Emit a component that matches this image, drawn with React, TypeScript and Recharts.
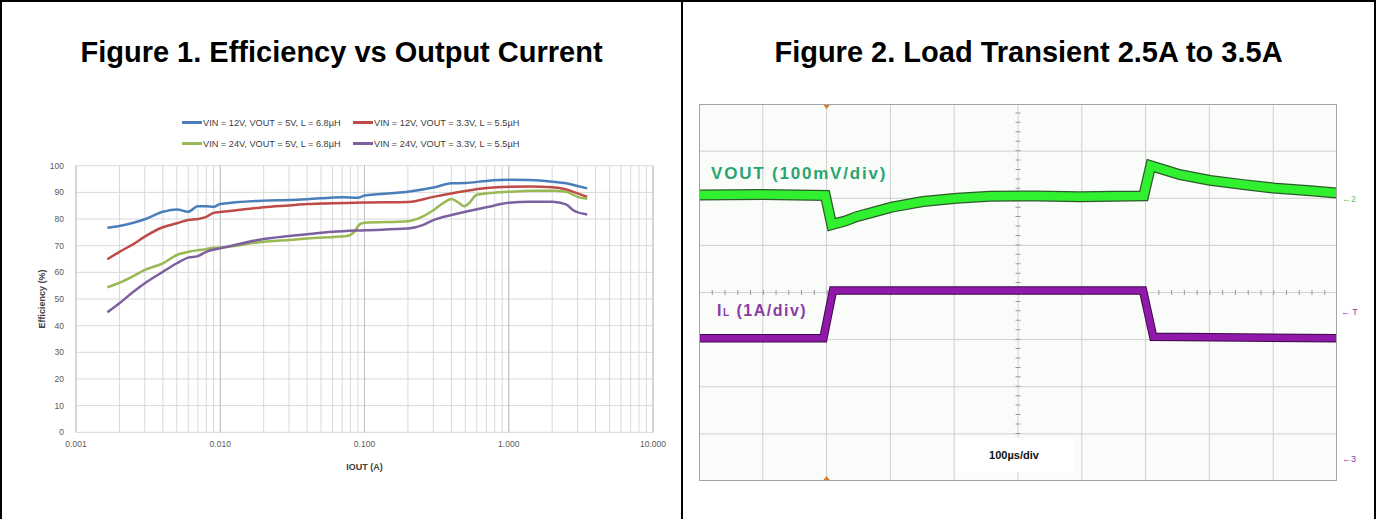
import React from "react";
import {
	CartesianGrid,
	Label,
	Line,
	LineChart,
	ReferenceDot,
	ReferenceLine,
	XAxis,
	YAxis,
} from "recharts";

// Figure 1 - efficiency curves (IOUT in A, efficiency in %)
const ioutBlue = [0.00165, 0.002, 0.0025, 0.003, 0.004, 0.005, 0.006, 0.007, 0.008, 0.009, 0.01, 0.02, 0.03, 0.04, 0.07, 0.09, 0.1, 0.2, 0.3, 0.4, 0.5, 0.7, 1.0, 1.4, 2.0, 2.5, 3.0, 3.5];
const effBlue = [76.7, 77.4, 78.6, 79.9, 82.7, 83.6, 82.7, 84.8, 84.8, 84.6, 85.6, 86.9, 87.1, 87.4, 88.2, 88.0, 88.8, 90.2, 91.8, 93.4, 93.5, 94.3, 94.7, 94.6, 94.0, 93.4, 92.4, 91.5];

const ioutRed = [0.00165, 0.002, 0.0025, 0.003, 0.004, 0.005, 0.006, 0.007, 0.008, 0.009, 0.01, 0.02, 0.03, 0.04, 0.1, 0.2, 0.3, 0.4, 0.5, 0.7, 1.0, 1.4, 2.0, 2.5, 3.0, 3.5];
const effRed = [64.9, 67.7, 70.6, 73.4, 76.9, 78.4, 79.6, 80.0, 80.8, 82.3, 82.6, 84.4, 85.1, 85.6, 86.2, 86.4, 88.3, 89.6, 90.5, 91.6, 92.1, 92.2, 91.9, 91.1, 89.6, 88.3];

const ioutGreen = [0.00165, 0.002, 0.0025, 0.003, 0.004, 0.005, 0.006, 0.007, 0.008, 0.009, 0.01, 0.02, 0.03, 0.04, 0.075, 0.085, 0.093, 0.1, 0.2, 0.25, 0.3, 0.35, 0.4, 0.45, 0.49, 0.53, 0.6, 0.7, 1.0, 1.5, 2.0, 2.5, 3.0, 3.5];
const effGreen = [54.4, 56.1, 58.6, 60.9, 63.4, 66.5, 67.7, 68.3, 68.7, 69.2, 69.3, 71.5, 72.1, 72.7, 73.6, 75.2, 78.1, 78.6, 79.2, 80.8, 83.3, 85.9, 87.5, 86.1, 84.8, 85.9, 89.1, 89.6, 90.2, 90.6, 90.6, 90.2, 88.3, 87.6];

const ioutPurple = [0.00165, 0.002, 0.0025, 0.003, 0.004, 0.005, 0.006, 0.007, 0.008, 0.009, 0.01, 0.02, 0.03, 0.04, 0.06, 0.1, 0.2, 0.25, 0.3, 0.4, 0.5, 0.7, 1.0, 1.4, 2.0, 2.5, 2.8, 3.5];
const effPurple = [45.0, 48.4, 52.7, 55.9, 60.2, 63.4, 65.5, 66.1, 67.7, 68.5, 69.0, 72.5, 73.6, 74.3, 75.2, 75.8, 76.4, 77.6, 79.6, 81.5, 82.7, 84.4, 86.1, 86.5, 86.5, 85.5, 83.3, 81.7];

const seriesNames = [
	"VIN = 12V, VOUT = 5V, L = 6.8µH",
	"VIN = 12V, VOUT = 3.3V, L = 5.5µH",
	"VIN = 24V, VOUT = 5V, L = 6.8µH",
	"VIN = 24V, VOUT = 3.3V, L = 5.5µH",
];
const seriesColors = ["#4a7ebb", "#be4b48", "#98b954", "#7d60a0"];

const decadeTicks = [0.001, 0.01, 0.1, 1, 10];
const effTicks = [0, 10, 20, 30, 40, 50, 60, 70, 80, 90, 100];

// Figure 2 - scope traces (time and level in divisions)
const divTicksX = [0, 1, 2, 3, 4, 5, 6, 7, 8, 9, 10];
const divTicksY = [0, 1, 2, 3, 4, 5, 6, 7, 8];

const voutTime = [0, 1.0, 1.98, 2.08, 2.3, 2.47, 2.75, 3.02, 3.51, 4.04, 4.56, 5.29, 5.97, 6.5, 6.97, 7.08, 7.3, 7.54, 8.01, 8.53, 9.05, 9.58, 10];
const voutLevel = [6.07, 6.08, 6.06, 5.44, 5.52, 5.61, 5.71, 5.81, 5.93, 6.0, 6.04, 6.05, 6.03, 6.04, 6.05, 6.69, 6.6, 6.5, 6.38, 6.29, 6.21, 6.16, 6.11];

const ilTime = [0, 1.95, 2.1, 6.96, 7.12, 10];
const ilLevel = [3.03, 3.03, 4.04, 4.04, 3.06, 3.03];

const FONT = '"Liberation Sans", Arial, sans-serif';

const gridTicks = decadeTicks.slice(0, -1).flatMap((d) =>
	[1, 2, 3, 4, 5, 6, 7, 8, 9].map((m) => Number((m * d).toPrecision(3))),
).concat([10]);

const toPoints = (xs: number[], ys: number[]) => xs.map((x, i) => ({ x, y: ys[i] }));

const effSeries = [
	toPoints(ioutBlue, effBlue),
	toPoints(ioutRed, effRed),
	toPoints(ioutGreen, effGreen),
	toPoints(ioutPurple, effPurple),
];

const voutData = toPoints(voutTime, voutLevel);
const ilData = toPoints(ilTime, ilLevel);

function EfficiencyChart() {
	return (
		<div style={{ position: "absolute", left: 0, top: 150 }}>
			<LineChart width={683} height={330} margin={{ top: 15.7, right: 30, bottom: 0, left: 0 }}>
				<CartesianGrid stroke="#d9d9d9" />
				<XAxis
					type="number"
					dataKey="x"
					scale="log"
					domain={[0.001, 10]}
					ticks={gridTicks}
					interval={0}
					allowDataOverflow
					tickFormatter={(v: number) => (decadeTicks.includes(v) ? v.toFixed(3) : "")}
					axisLine={false}
					tickLine={false}
					tickSize={0}
					tickMargin={9}
					height={47.7}
					tick={{ fontSize: 8.5, fill: "#595959", fontFamily: FONT }}
				>
					<Label
						value="IOUT (A)"
						position="insideBottom"
						offset={10}
						style={{ fontSize: 9, fontWeight: "bold", fill: "#404040", fontFamily: FONT }}
					/>
				</XAxis>
				<YAxis
					type="number"
					domain={[0, 100]}
					ticks={effTicks}
					interval={0}
					axisLine={false}
					tickLine={false}
					tickSize={0}
					tickMargin={12}
					width={76}
					tick={{ fontSize: 8.5, fill: "#595959", fontFamily: FONT }}
				>
					<Label
						value="Efficiency (%)"
						angle={-90}
						position="insideLeft"
						offset={42}
						style={{ textAnchor: "middle", fontSize: 9, fontWeight: "bold", fill: "#404040", fontFamily: FONT }}
					/>
				</YAxis>
				{decadeTicks.map((d) => (
					<ReferenceLine key={d} x={d} stroke="#bfbfbf" />
				))}
				{effSeries.map((data, i) => (
					<Line
						key={seriesNames[i]}
						data={data}
						dataKey="y"
						type="monotone"
						stroke={seriesColors[i]}
						strokeWidth={2.5}
						dot={false}
						isAnimationActive={false}
					/>
				))}
			</LineChart>
			<div style={{ position: "absolute", left: 182, top: -38, fontFamily: FONT, fontSize: 9.2, color: "#404040" }}>
				{[0, 1].map((row) => (
					<div key={row} style={{ display: "flex", height: 21, alignItems: "center" }}>
						{[0, 1].map((col) => {
							const i = row * 2 + col;
							return (
								<div key={col} style={{ display: "flex", alignItems: "center", width: col === 0 ? 171 : 180 }}>
									<span style={{ display: "inline-block", width: 20, height: 2.5, background: seriesColors[i] }} />
									<span style={{ marginLeft: 1 }}>{seriesNames[i]}</span>
								</div>
							);
						})}
					</div>
				))}
			</div>
		</div>
	);
}

const TriggerDown = ({ cx, cy }: any) => (
	<path d={`M${cx - 4},${cy} L${cx + 4},${cy} L${cx},${cy + 5} Z`} fill="#e07a2e" />
);
const TriggerUp = ({ cx, cy }: any) => (
	<path d={`M${cx - 4},${cy} L${cx + 4},${cy} L${cx},${cy - 5} Z`} fill="#e07a2e" />
);

function TransientChart() {
	return (
		<div style={{ position: "absolute", left: 699, top: 104 }}>
			<LineChart width={638} height={377} margin={{ top: 0, right: 0, bottom: 0, left: 0 }}>
				<XAxis type="number" dataKey="x" domain={[0, 10]} ticks={divTicksX} hide />
				<YAxis type="number" domain={[0, 8]} ticks={divTicksY} hide />
				<CartesianGrid stroke="#cfcfcf" fill="#fafcfa" />
				<ReferenceLine x={5} stroke="#999" strokeWidth={5} strokeDasharray="1 8.425" />
				<ReferenceLine y={4} stroke="#999" strokeWidth={5} strokeDasharray="1 11.76" />
				<Line data={voutData} dataKey="y" type="linear" stroke="#2c5a2c" strokeWidth={11} dot={false} isAnimationActive={false} />
				<Line data={voutData} dataKey="y" type="linear" stroke="#30f030" strokeWidth={8.5} dot={false} isAnimationActive={false} />
				<Line data={ilData} dataKey="y" type="linear" stroke="#3d0a48" strokeWidth={8.5} dot={false} isAnimationActive={false} />
				<Line data={ilData} dataKey="y" type="linear" stroke="#9119aa" strokeWidth={6.5} dot={false} isAnimationActive={false} />
				<ReferenceDot x={2} y={8} ifOverflow="visible" shape={TriggerDown} />
				<ReferenceDot x={2} y={0} ifOverflow="visible" shape={TriggerUp} />
			</LineChart>
			<div style={{ position: "absolute", left: 0, top: 0, width: 636, height: 375, border: "1px solid #a4a4a4", pointerEvents: "none" }} />
		</div>
	);
}

export default function App() {
	return (
		<div style={{ position: "fixed", left: 0, top: 0, width: 1380, height: 519, overflow: "hidden", background: "#fff", fontFamily: FONT }}>
			<div style={{ position: "absolute", left: 0, top: 0, width: 1376, height: 540, boxSizing: "border-box", borderTop: "2px solid #000", borderLeft: "2px solid #000", borderRight: "2px solid #000" }} />
			<div style={{ position: "absolute", left: 681, top: 0, width: 2, height: 519, background: "#000" }} />
			<div style={{ position: "absolute", left: 2, top: 36, width: 679, textAlign: "center", fontWeight: "bold", fontSize: 29 }}>
				Figure 1. Efficiency vs Output Current
			</div>
			<div style={{ position: "absolute", left: 683, top: 36, width: 691, textAlign: "center", fontWeight: "bold", fontSize: 29 }}>
				Figure 2. Load Transient 2.5A to 3.5A
			</div>
			<EfficiencyChart />
			<TransientChart />
			<div style={{ position: "absolute", left: 711, top: 164, fontSize: 17, fontWeight: "bold", color: "#2aa471", letterSpacing: 1.8 }}>
				VOUT (100mV/div)
			</div>
			<div style={{ position: "absolute", left: 717, top: 302, fontSize: 16, fontWeight: "bold", color: "#8b3aa6", letterSpacing: 1.5 }}>
				I<span style={{ fontSize: 10 }}>L</span> (1A/div)
			</div>
			<div style={{ position: "absolute", left: 955, top: 438, width: 118, height: 34, background: "#fff", display: "flex", alignItems: "center", justifyContent: "center", fontSize: 11, fontWeight: "bold", color: "#111" }}>
				100µs/div
			</div>
			<div style={{ position: "absolute", left: 1342, top: 194, fontSize: 9, color: "#5fc95f" }}>←2</div>
			<div style={{ position: "absolute", left: 1341, top: 307, fontSize: 9, color: "#8b3aa6" }}>← T</div>
			<div style={{ position: "absolute", left: 1342, top: 454, fontSize: 9, color: "#8b3aa6" }}>←3</div>
		</div>
	);
}
